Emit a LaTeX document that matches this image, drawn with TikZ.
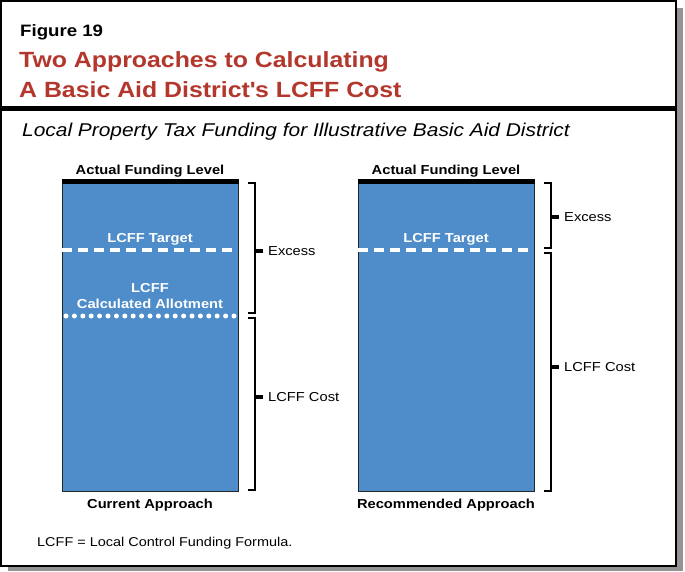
\documentclass[tikz,border=0pt]{standalone}
\usepackage{fontspec}
\setmainfont[FakeStretch=1.13]{Liberation Sans}
\usetikzlibrary{positioning}
\definecolor{laored}{HTML}{B3372C}
\definecolor{barblue}{HTML}{4F8DCA}
\tikzstyle{bar}=[draw=black!85,fill=barblue,line width=0.8pt]
\tikzstyle{fundtop}=[line width=5pt]
\tikzstyle{target}=[white,line width=3.8pt,dash pattern=on 9.5pt off 6.5pt]
\tikzstyle{brace}=[line width=1.3pt]
\tikzstyle{tick}=[line width=4.4pt]
\tikzstyle{headtxt}=[anchor=base west,inner sep=0,font=\bfseries\fontsize{22}{24}\selectfont,laored]
\tikzstyle{bartxt}=[anchor=base,inner sep=0,font=\bfseries\fontsize{13}{15}\selectfont]
\tikzstyle{intxt}=[bartxt,white]
\tikzstyle{sidetxt}=[anchor=west,inner sep=0,font=\fontsize{13}{15}\selectfont]

\begin{document}
\begin{tikzpicture}[x=1pt,y=-1pt]
\useasboundingbox (0,0) rectangle (685,572);
% frame and shadow
\fill[gray!85] (8,8) rectangle (683,571);
\draw[line width=2pt,fill=white] (1,1) rectangle (676,566);
\draw[line width=5pt] (1,108.5)--(676,108.5);

\node[anchor=base west,inner sep=0,font=\bfseries\fontsize{16.5}{18}\selectfont] (fig) at (20,37) {Figure 19};
\node[headtxt] (head1) at (19,68) {Two Approaches to Calculating};
\node[headtxt] (head2) at (19,98) {A Basic Aid District\textquotesingle s LCFF Cost};
\node[anchor=base west,inner sep=0,font=\itshape\fontsize{18.5}{20}\selectfont] (sub) at (22,137) {Local Property Tax Funding for Illustrative Basic Aid District};

% the two bars
\foreach \x/\nm/\cap in {62/cur/Current Approach,358/rec/Recommended Approach}{
	\draw[bar] (\x,182) rectangle (\x+176,491);
	\draw[fundtop] (\x-0.5,181.5)--(\x+176.5,181.5);
	\draw[target] (\x,250)--(\x+176,250);
	\node[bartxt] (\nm-level) at (\x+88,175) {Actual Funding Level};
	\node[intxt] (\nm-target) at (\x+88,242) {LCFF Target};
	\node[bartxt] (\nm-cap) at (\x+88,508) {\cap};
}
\foreach \i in {0,...,20}{
	\fill[white] (66+\i*8.4,316) circle (2.5);}
\node[intxt] (allot1) at (150,292) {LCFF};
\node[intxt] (allot2) at (150,308) {Calculated Allotment};

% brackets
\foreach \xb/\ya/\yb/\ym in {255/183/313/251, 255/318/490/397, 551/183/248/217, 551/253/491/367}{
	\draw[brace] (\xb-7,\ya)--(\xb,\ya)--(\xb,\yb)--(\xb-7,\yb);
	\draw[tick] (\xb,\ym)--(\xb+7.5,\ym);
}
\node[sidetxt] (cur-excess) at (268,251) {Excess};
\node[sidetxt] (cur-cost) at (268,397) {LCFF Cost};
\node[sidetxt] (rec-excess) at (564,217) {Excess};
\node[sidetxt] (rec-cost) at (564,367) {LCFF Cost};

\node[anchor=base west,inner sep=0,font=\fontsize{12.8}{14}\selectfont] (note) at (37,546) {LCFF = Local Control Funding Formula.};
\end{tikzpicture}
\end{document}
